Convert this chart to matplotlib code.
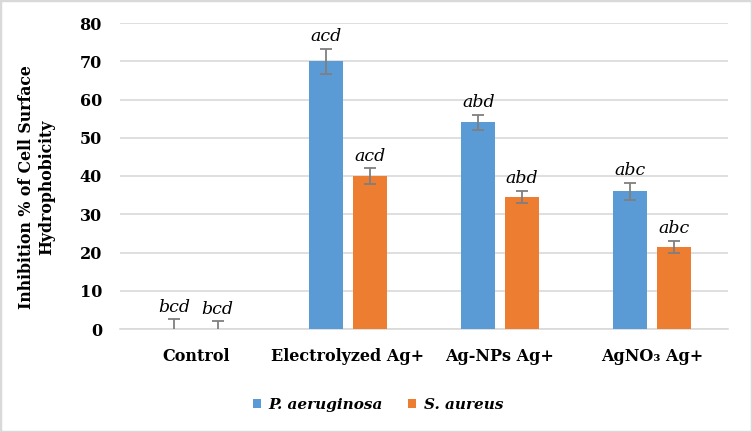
import numpy as np
import matplotlib.pyplot as plt
from matplotlib.patches import Rectangle

plt.rcParams['font.family'] = ['DejaVu Serif']

groups = ["Control", "Electrolyzed Ag+", "Ag-NPs Ag+", "AgNO\u2083 Ag+"]
pa_vals = [0, 70, 54, 36]
pa_err = [2.5, 3.3, 2.0, 2.2]
sa_vals = [0, 40, 34.5, 21.5]
sa_err = [2.0, 2.0, 1.5, 1.5]
pa_letters = ["bcd", "acd", "abd", "abc"]
sa_letters = ["bcd", "acd", "abd", "abc"]

blue = "#5B9BD5"
orange = "#ED7D31"

fig = plt.figure(figsize=(7.52, 4.32), dpi=100)
ax = fig.add_axes([120/752, 1 - 329/432, (728-120)/752, (329-23)/432])

x = np.arange(len(groups))
w = 0.224
off = 0.142
ekw = dict(ecolor="#7f7f7f", elinewidth=1.3, capsize=4, capthick=1.3)
ax.bar(x - off, pa_vals, w, color=blue, yerr=pa_err, error_kw=ekw, label="P. aeruginosa", zorder=3)
ax.bar(x + off, sa_vals, w, color=orange, yerr=sa_err, error_kw=ekw, label="S. aureus", zorder=3)

for xi, v, e, t in zip(x - off, pa_vals, pa_err, pa_letters):
    ax.text(xi, v + e + 1.0, t, ha="center", va="bottom", style="italic", fontsize=12.5)
for xi, v, e, t in zip(x + off, sa_vals, sa_err, sa_letters):
    ax.text(xi, v + e + 1.0, t, ha="center", va="bottom", style="italic", fontsize=12.5)

ax.set_xlim(-0.5, len(groups) - 0.5)
ax.set_ylim(0, 80)
ax.set_yticks(range(0, 81, 10))
ax.yaxis.grid(True, color="#d9d9d9", linewidth=1.2, zorder=0)
ax.set_axisbelow(True)
for s in ["top", "right", "left"]:
    ax.spines[s].set_visible(False)
ax.spines["bottom"].set_color("#d9d9d9")
ax.spines["bottom"].set_linewidth(1.2)
ax.tick_params(axis="both", length=0, labelsize=11.5)
ax.tick_params(axis="y", pad=13)
ax.tick_params(axis="x", pad=14)
ax.set_xticks(x)
ax.set_xticklabels(groups, fontweight="bold")
for lab in ax.get_yticklabels():
    lab.set_fontweight("bold")

fig.text(37/752, 1 - 187/432, "Inhibition % of Cell Surface\nHydrophobicity", rotation=90,
         ha="center", va="center", fontsize=11.3, fontweight="bold", linespacing=1.25)

leg = fig.legend(loc="center", bbox_to_anchor=(378/752, 1 - 405/432), ncol=2, frameon=False,
                 prop=dict(size=11, style="italic", weight="bold"), handlelength=0.55,
                 handleheight=0.55, columnspacing=1.6, handletextpad=0.5)

fig.patches.append(Rectangle((0, 0), 1, 1, transform=fig.transFigure, fill=False,
                             edgecolor="#d9d9d9", linewidth=2.5))

fig.savefig("out.png", dpi=100)
